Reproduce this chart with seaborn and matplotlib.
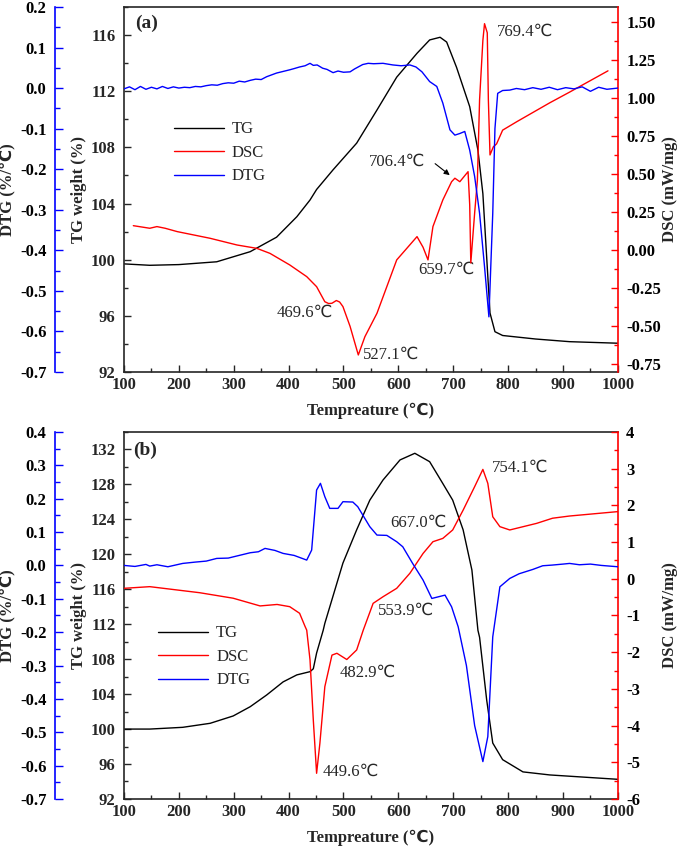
import seaborn as sns
import matplotlib.pyplot as plt
from matplotlib.ticker import MultipleLocator, FormatStrFormatter

sns.set_style('ticks')
plt.rcParams['font.family'] = ['Liberation Serif', 'DejaVu Sans']
plt.rcParams['font.weight'] = 'bold'
plt.rcParams['axes.labelweight'] = 'bold'
plt.rcParams['axes.unicode_minus'] = False
plt.rcParams['xtick.direction'] = 'in'
plt.rcParams['ytick.direction'] = 'in'

SERIES = ['TG', 'DSC', 'DTG']
COLORS = {'TG': 'black', 'DSC': '#ff0000', 'DTG': '#0000ff'}

# ---- panel (a) ----
tg_a_t = [100, 147, 200, 269, 330, 378, 415, 439, 451, 481, 524, 561, 597, 634, 657, 676, 688, 706,
          730, 745, 754, 767, 776, 790, 850, 912, 1000]
tg_a = [99.7, 99.6, 99.65, 99.85, 100.57, 101.6, 103.06, 104.25, 105.0, 106.4, 108.3, 110.66, 113.0,
        114.7, 115.65, 115.84, 115.5, 113.7, 110.9, 107.8, 104.7, 96.2, 94.87, 94.6, 94.35, 94.16, 94.05]

dsc_a_t = [117, 147, 160, 175, 197, 257, 306, 342, 366, 402, 433, 451, 466, 473, 479, 487, 493, 499,
           512, 527, 539, 561, 597, 634, 645, 654, 663, 681, 697, 703, 712, 727, 730, 732, 739, 744,
           748, 754, 757, 762, 764, 767, 773, 779, 790, 816, 876, 912, 982]
dsc_a = [0.162, 0.145, 0.156, 0.145, 0.123, 0.079, 0.035, 0.013, -0.02, -0.096, -0.173, -0.239, -0.338,
         -0.35, -0.348, -0.33, -0.34, -0.37, -0.50, -0.688, -0.568, -0.414, -0.063, 0.09, 0.02, -0.063,
         0.156, 0.331, 0.451, 0.474, 0.451, 0.517, 0.3, -0.083, 0.245, 0.46, 0.99, 1.38, 1.49, 1.43,
         0.99, 0.627, 0.68, 0.70, 0.79, 0.846, 0.97, 1.04, 1.18]

dtg_a_t = [100, 110, 120, 130, 140, 150, 160, 170, 180, 190, 200, 210, 220, 230, 240, 250, 260, 270,
           280, 290, 300, 310, 320, 330, 340, 350, 360, 370, 378, 390, 402, 410, 420, 430, 439, 445,
           452, 462, 470, 481, 490, 500, 512, 520, 535, 545, 555, 572, 590, 605, 621, 632, 643, 650,
           657, 670, 681, 694, 703, 712, 721, 730, 739, 748, 757, 765, 772, 776, 781, 790, 803, 815,
           830, 845, 860, 875, 890, 905, 920, 935, 950, 965, 980, 1000]
dtg_a = [-0.002, 0.003, -0.004, 0.004, -0.003, 0.002, -0.002, 0.004, -0.001, 0.003, 0.0, 0.002, 0.001,
         0.004, 0.003, 0.006, 0.008, 0.007, 0.011, 0.013, 0.012, 0.017, 0.015, 0.019, 0.022, 0.021,
         0.028, 0.033, 0.037, 0.041, 0.045, 0.048, 0.052, 0.055, 0.061, 0.056, 0.057, 0.049, 0.046,
         0.038, 0.042, 0.039, 0.040, 0.047, 0.058, 0.061, 0.060, 0.061, 0.057, 0.055, 0.057, 0.052,
         0.04, 0.028, 0.016, 0.004, -0.037, -0.103, -0.116, -0.112, -0.107, -0.153, -0.218, -0.309,
         -0.44, -0.564, -0.309, -0.10, -0.013, -0.006, -0.005, -0.001, -0.004, 0.001, -0.003, 0.002,
         -0.004, 0.001, -0.002, 0.003, -0.008, 0.002, -0.003, 0.0]

# ---- panel (b) ----
tg_b_t = [100, 147, 207, 257, 299, 330, 360, 390, 415, 439, 445, 451, 463, 466, 499, 524, 548, 572,
          603, 630, 657, 681, 699, 718, 734, 745, 748, 761, 772, 790, 827, 876, 1000]
tg_b = [100.0, 100.0, 100.2, 100.66, 101.5, 102.56, 103.9, 105.4, 106.2, 106.57, 106.9, 108.7, 111.3,
        112.1, 119.0, 122.8, 126.2, 128.5, 130.8, 131.56, 130.6, 128.1, 126.2, 122.8, 118.2, 111.3,
        110.5, 103.3, 98.4, 96.5, 95.1, 94.75, 94.25]

dsc_b_t = [100, 147, 238, 299, 348, 379, 402, 420, 430, 433, 439, 445, 451, 457, 466, 479, 488, 506,
           524, 536, 554, 572, 597, 621, 645, 663, 681, 699, 718, 739, 754, 763, 772, 785, 803, 852,
           881, 912, 1000]
dsc_b = [-0.26, -0.215, -0.38, -0.53, -0.74, -0.70, -0.76, -0.94, -1.30, -1.40, -2.21, -3.85, -5.3,
         -4.48, -2.94, -2.08, -2.03, -2.2, -1.94, -1.4, -0.67, -0.49, -0.26, 0.15, 0.69, 1.01, 1.10,
         1.33, 1.87, 2.51, 2.98, 2.60, 1.69, 1.42, 1.33, 1.51, 1.65, 1.71, 1.83]

dtg_b_t = [100, 120, 140, 147, 160, 180, 207, 230, 250, 269, 290, 310, 330, 345, 357, 375, 390, 410,
           433, 442, 451, 458, 466, 475, 490, 499, 517, 526, 548, 561, 579, 597, 608, 626, 645, 661,
           685, 697, 709, 724, 739, 754, 763, 772, 785, 803, 820, 845, 863, 880, 900, 912, 930, 950,
           970, 1000]
dtg_b = [0.0, -0.003, 0.003, -0.002, 0.002, -0.004, 0.006, 0.01, 0.013, 0.021, 0.022, 0.03, 0.038,
         0.041, 0.051, 0.045, 0.036, 0.03, 0.016, 0.046, 0.226, 0.246, 0.206, 0.171, 0.171, 0.191,
         0.19, 0.176, 0.116, 0.091, 0.09, 0.071, 0.056, 0.006, -0.044, -0.099, -0.089, -0.124, -0.184,
         -0.30, -0.48, -0.588, -0.513, -0.214, -0.064, -0.039, -0.025, -0.012, -0.001, 0.001, 0.004,
         0.006, 0.002, 0.004, 0.0, -0.004]

# peak labels: (text, temperature, TG-axis value)
notes_a = [('769.4℃', 779.5, 116.2), ('706.4℃', 546, 106.96), ('659.7℃', 635.6, 99.26),
           ('469.6℃', 378.7, 96.2), ('527.1℃', 535.4, 93.2)]
notes_b = [('754.1℃', 770.4, 129.88), ('667.0℃', 584.6, 123.59), ('553.9℃', 562.7, 113.5),
           ('482.9℃', 493.5, 106.42), ('449.6℃', 462.5, 95.09)]


def draw_panel(ax, tg_t, tg, dsc_t, dsc, dtg_t, dtg, tg_lim, dsc_lim, dsc_step, dsc_fmt, dtg_lim,
               tag, tag_pos, notes, leg_pos):
    ax_dsc = ax.twinx()
    ax_dtg = ax.twinx()

    sns.lineplot(x=tg_t, y=tg, ax=ax, color=COLORS['TG'], linewidth=1, label='TG', legend=False)
    sns.lineplot(x=dsc_t, y=dsc, ax=ax_dsc, color=COLORS['DSC'], linewidth=1, label='DSC', legend=False)
    sns.lineplot(x=dtg_t, y=dtg, ax=ax_dtg, color=COLORS['DTG'], linewidth=1, label='DTG', legend=False)

    ax.set_xlim(100, 1000)
    ax.set_ylim(*tg_lim)
    ax_dsc.set_ylim(*dsc_lim)
    ax_dtg.set_ylim(*dtg_lim)

    ax.xaxis.set_major_locator(MultipleLocator(100))
    ax.xaxis.set_minor_locator(MultipleLocator(50))
    ax.yaxis.set_major_locator(MultipleLocator(4))
    ax.yaxis.set_minor_locator(MultipleLocator(2))
    ax_dsc.yaxis.set_major_locator(MultipleLocator(dsc_step))
    ax_dsc.yaxis.set_minor_locator(MultipleLocator(dsc_step / 2))
    ax_dsc.yaxis.set_major_formatter(FormatStrFormatter(dsc_fmt))
    ax_dtg.yaxis.set_major_locator(MultipleLocator(0.1))
    ax_dtg.yaxis.set_minor_locator(MultipleLocator(0.05))
    ax_dtg.yaxis.set_major_formatter(FormatStrFormatter('%.1f'))

    for a in (ax, ax_dsc, ax_dtg):
        for s in a.spines.values():
            s.set_linewidth(1.2)
    ax.spines['right'].set_visible(False)
    ax.tick_params(axis='both', which='major', length=5, width=1, labelsize=12, top=False, right=False)
    ax.tick_params(axis='both', which='minor', length=2.7, width=1, top=False, right=False)
    ax.tick_params(axis='y', which='major', pad=6)

    for side in ('left', 'top', 'bottom'):
        ax_dsc.spines[side].set_visible(False)
    ax_dsc.spines['right'].set_color(COLORS['DSC'])
    ax_dsc.tick_params(axis='y', which='major', length=5, width=1, colors=COLORS['DSC'],
                       labelcolor='black', labelsize=12, pad=6)
    ax_dsc.tick_params(axis='y', which='minor', length=2.7, width=1, colors=COLORS['DSC'])

    for side in ('right', 'top', 'bottom'):
        ax_dtg.spines[side].set_visible(False)
    ax_dtg.spines['left'].set_visible(True)
    ax_dtg.spines['left'].set_position(('axes', -0.14))
    ax_dtg.spines['left'].set_color(COLORS['DTG'])
    ax_dtg.yaxis.set_ticks_position('left')
    ax_dtg.yaxis.set_label_position('left')
    ax_dtg.tick_params(axis='y', which='major', length=6, width=1, colors=COLORS['DTG'],
                       labelcolor='black', labelsize=12, pad=6)
    ax_dtg.tick_params(axis='y', which='minor', length=3.5, width=1, colors=COLORS['DTG'])

    ax.set_xlabel('Tempreature (℃)', fontsize=12)
    ax.set_ylabel('TG weight (%)', fontsize=12)
    ax_dsc.set_ylabel('DSC (mW/mg)', fontsize=12)
    ax_dtg.set_ylabel('DTG (%/℃)', fontsize=12)
    ax.xaxis.set_label_coords(0.5, -0.084)
    ax.yaxis.set_label_coords(-0.075, 0.5)
    ax_dsc.yaxis.set_label_coords(1.09, 0.5)
    ax_dtg.yaxis.set_label_coords(-0.219, 0.5)

    ax.text(tag_pos[0], tag_pos[1], tag, fontsize=14, fontweight='bold', ha='left', va='center')
    for txt, tx, ty in notes:
        ax.text(tx, ty, txt, fontsize=12, fontweight='normal', ha='left', va='center')

    handles, labels = [], []
    for a in (ax, ax_dsc, ax_dtg):
        h, l = a.get_legend_handles_labels()
        handles += h
        labels += l
    ax_dtg.legend(handles, labels, loc='center left', bbox_to_anchor=leg_pos, frameon=False,
                  prop={'weight': 'normal', 'size': 12}, handlelength=3.0, labelspacing=0.45,
                  handletextpad=0.5, borderaxespad=0)
    return ax_dsc, ax_dtg


fig = plt.figure(figsize=(6.85, 8.47), dpi=100)
ax_a = fig.add_axes([0.181, 0.5608, 0.721, 0.431])
ax_b = fig.add_axes([0.181, 0.0567, 0.721, 0.4333])

draw_panel(ax_a, tg_a_t, tg_a, dsc_a_t, dsc_a, dtg_a_t, dtg_a, (92, 118), (-0.8, 1.6), 0.25, '%.2f',
           (-0.7, 0.2), '(a)', (120, 116.8), notes_a, (0.087, 0.6))
ax_a.annotate('', xy=(697.6, 105.9), xytext=(663, 106.96),
              arrowprops=dict(arrowstyle='-|>', color='black', lw=0.8, mutation_scale=8))

draw_panel(ax_b, tg_b_t, tg_b, dsc_b_t, dsc_b, dtg_b_t, dtg_b, (92, 134), (-6, 4), 1, '%d',
           (-0.7, 0.4), '(b)', (116.4, 131.94), notes_b, (0.055, 0.387))

fig.savefig('out.png', dpi=100)
